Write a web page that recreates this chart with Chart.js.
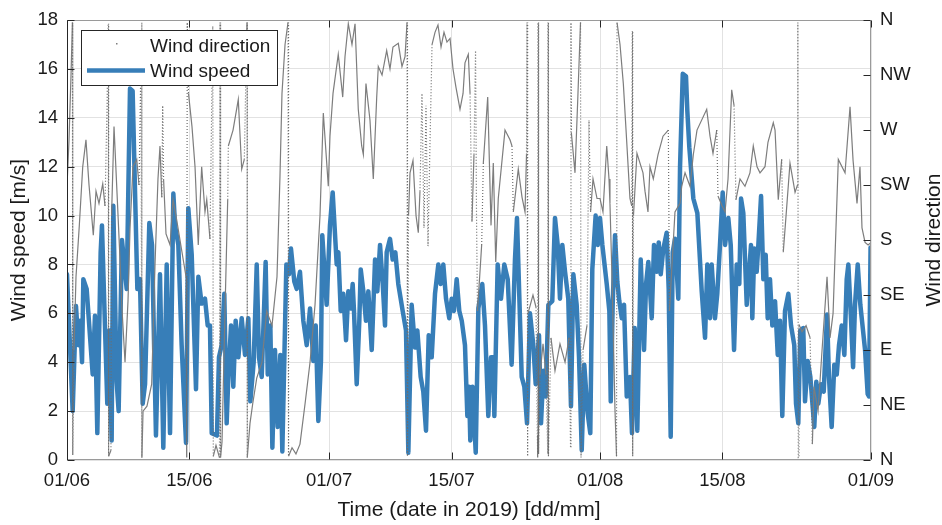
<!DOCTYPE html>
<html><head><meta charset="utf-8">
<script src="https://cdn.jsdelivr.net/npm/chart.js@4/dist/chart.umd.min.js"></script>
<style>html,body{margin:0;padding:0;background:#fff}canvas{display:block}</style>
</head><body>
<canvas id="c" width="942" height="525"></canvas>
<script>
// time axis: days since 01/06/2019 00:00
const dateTickDays = [0, 14, 30, 44, 61, 75, 92];
const dateTickLabels = ['01/06', '15/06', '01/07', '15/07', '01/08', '15/08', '01/09'];
const dirTickLabels = ['N', 'NE', 'E', 'SE', 'S', 'SW', 'W', 'NW', 'N'];

const speedDays = [0.00,0.65,1.03,1.30,1.49,1.72,1.87,2.25,2.94,3.20,3.47,3.85,4.00,4.61,4.84,5.11,5.30,5.68,5.91,6.29,6.83,7.21,7.51,8.05,8.35,8.66,8.93,9.42,9.73,10.18,10.64,11.02,11.41,11.79,12.17,12.36,12.74,13.12,13.62,13.88,14.27,14.76,15.03,15.40,15.79,16.10,16.36,16.56,17.16,17.39,17.70,18.00,18.27,18.46,18.77,19.03,19.30,19.61,19.99,20.37,20.75,20.98,21.36,21.71,21.97,22.28,22.73,22.97,23.27,23.50,23.80,24.11,24.41,24.64,25.10,25.40,25.63,26.01,26.28,26.66,27.04,27.43,27.81,28.19,28.46,28.76,29.06,29.21,29.71,30.09,30.40,30.86,31.05,31.32,31.62,31.93,32.19,32.47,32.69,32.84,33.15,33.45,33.61,33.91,34.21,34.48,34.87,35.25,35.51,35.82,36.13,36.39,36.58,36.96,37.27,37.57,37.91,38.41,38.79,39.06,39.44,39.82,40.09,40.47,40.77,41.08,41.39,41.73,42.11,42.49,42.76,43.06,43.37,43.74,44.02,44.28,44.59,44.89,45.17,45.54,45.81,46.00,46.15,46.40,46.77,47.07,47.52,47.83,47.98,48.21,48.52,48.78,48.90,49.28,49.66,50.04,50.43,50.88,51.26,51.49,52.03,52.33,52.64,52.98,53.36,53.63,54.01,54.24,54.51,54.77,55.08,55.53,55.84,56.15,56.41,56.68,56.99,57.36,57.67,57.94,58.32,58.59,58.90,59.19,59.58,59.88,60.11,60.49,60.73,60.99,61.26,61.76,62.06,62.22,62.44,62.71,62.97,63.20,63.48,63.74,64.05,64.42,64.65,64.96,65.26,65.65,66.03,66.26,66.52,66.91,67.17,67.48,67.71,67.94,68.24,68.62,68.85,69.08,69.31,69.57,69.95,70.15,70.46,70.83,70.98,71.21,71.67,72.13,72.63,73.01,73.27,73.58,73.77,74.15,74.41,74.72,75.03,75.30,75.67,75.95,76.33,76.63,76.93,77.13,77.39,77.78,78.27,78.42,78.65,78.92,79.11,79.42,79.68,79.95,80.18,80.44,80.71,81.02,81.33,81.59,81.85,82.16,82.54,82.85,83.22,83.42,83.68,83.91,84.25,84.45,84.76,85.06,85.51,85.74,85.97,86.28,86.59,86.97,87.19,87.50,87.80,88.08,88.34,88.65,88.95,89.22,89.41,89.72,89.95,90.17,90.48,90.78,91.32,91.62,91.77,91.95];
const speedValues = [7.6,2.0,6.3,4.7,5.7,4.0,7.4,7.0,3.5,5.9,1.1,8.5,9.6,2.3,5.3,0.8,10.4,3.2,2.0,9.0,7.0,15.2,15.1,7.0,7.4,2.3,3.1,9.7,8.8,1.0,7.6,0.5,8.0,1.1,10.9,9.6,8.8,4.7,0.7,10.3,8.4,2.9,7.5,6.4,6.6,5.5,5.5,1.1,1.0,4.2,4.7,6.8,1.5,3.4,5.5,3.0,5.7,4.2,5.8,4.3,5.8,2.4,4.0,8.0,4.2,3.4,8.1,3.5,5.5,0.5,4.5,1.35,4.3,0.35,8.0,7.6,8.65,7.3,7.0,7.7,5.7,4.7,6.2,4.05,5.5,1.6,4.05,9.2,6.35,9.6,10.95,8.0,8.5,6.1,6.8,4.9,6.9,6.2,7.2,6.1,3.1,5.7,7.8,6.9,5.7,6.9,4.5,8.2,6.9,8.8,7.2,5.5,8.5,9.05,8.2,8.5,7.2,6.1,5.3,0.3,6.35,4.6,5.3,3.4,2.8,1.2,5.1,4.2,6.8,8.0,7.2,8.0,6.6,5.8,6.6,6.1,7.4,6.1,5.7,4.7,1.8,3.0,0.8,3.0,0.3,6.2,7.2,5.5,4.05,1.8,4.2,4.2,1.8,8.0,6.6,8.0,7.4,3.9,8.2,9.9,3.4,3.0,1.5,6.0,4.7,3.1,5.1,1.5,3.65,2.6,6.35,6.5,9.9,8.8,6.6,8.8,7.7,6.6,2.2,7.6,6.35,4.2,0.4,3.9,1.9,1.1,7.8,10.0,8.8,9.9,8.8,7.2,6.1,2.4,6.35,9.2,7.3,6.5,5.8,6.35,2.6,3.4,1.1,5.4,1.2,8.2,4.5,7.2,8.1,5.8,8.8,7.7,8.9,7.6,8.65,9.3,7.0,0.95,8.5,9.05,6.6,12.0,15.8,15.7,14.3,12.8,10.7,10.1,6.9,5.0,8.0,5.8,8.0,5.8,6.8,8.8,10.95,8.8,9.9,8.8,4.5,8.0,7.2,10.7,10.1,6.35,8.8,5.8,8.65,7.7,8.8,10.8,7.4,8.4,5.8,7.4,5.5,6.5,4.3,5.7,1.8,6.1,6.8,5.5,4.7,2.3,1.5,5.3,5.4,2.4,4.05,3.4,1.35,3.2,2.3,3.1,2.8,5.95,3.4,1.35,3.9,3.5,4.7,5.5,4.3,7.4,8.0,5.7,3.8,6.35,8.0,6.35,4.5,2.7,2.6,8.7];

// wind direction in degrees (0 = N, 90 = E, 180 = S, 270 = W, 360 = N)
const dirDays = [0.00,0.23,0.46,0.62,0.66,0.80,1.03,1.41,1.80,2.17,2.52,3.01,3.32,3.66,4.09,4.35,4.58,4.71,4.76,5.03,5.10,5.38,5.72,6.06,6.29,6.64,6.98,7.21,7.55,7.98,8.24,8.47,8.55,8.57,8.70,9.15,9.69,10.07,10.41,10.64,10.85,10.95,11.05,11.33,11.79,12.13,12.47,12.93,13.39,13.62,13.70,13.76,13.90,14.30,14.65,15.02,15.41,15.79,15.99,16.36,16.68,16.74,17.05,17.45,17.51,17.57,17.74,18.08,18.39,18.46,19.00,19.60,19.99,20.29,20.54,20.60,20.63,20.94,21.25,21.71,22.31,22.85,23.46,24.03,24.37,24.60,24.95,25.29,25.35,25.75,26.20,26.66,27.24,27.81,28.38,28.95,29.33,29.90,30.09,30.44,31.04,31.55,31.81,32.19,32.61,32.96,33.33,33.72,33.91,34.21,34.67,35.05,35.44,35.62,36.05,36.58,36.96,37.30,37.91,38.33,38.68,38.91,38.96,39.08,39.25,39.59,39.94,40.20,40.39,40.62,40.85,41.08,41.31,41.54,41.77,42.11,42.45,42.80,43.14,43.48,43.83,44.17,44.51,44.97,45.32,45.54,45.92,46.12,46.34,46.57,46.75,46.86,46.97,47.45,47.64,48.14,48.52,48.78,49.06,49.35,50.12,50.69,50.92,51.07,51.64,52.07,52.41,52.58,52.64,52.67,52.75,53.32,53.67,53.82,53.86,53.90,53.96,54.13,54.47,54.81,55.01,55.04,55.09,55.38,55.84,56.41,56.99,57.45,57.62,57.67,57.71,58.13,58.47,58.76,58.82,59.05,59.50,59.73,59.91,60.19,60.65,60.99,61.33,61.76,62.02,62.13,62.36,62.71,62.88,62.94,63.28,63.66,63.97,64.42,64.62,64.69,64.73,64.82,65.22,65.91,66.14,66.48,66.71,67.09,67.63,68.20,68.81,68.94,69.23,69.57,70.14,70.34,70.72,71.29,71.67,72.09,73.20,73.58,73.92,74.35,74.49,74.95,75.30,75.64,76.06,76.33,76.55,77.01,77.58,78.15,78.53,78.96,79.30,79.87,80.21,80.82,81.02,81.39,81.78,81.96,82.28,82.73,83.31,83.59,83.63,83.68,83.76,84.11,84.57,85.03,85.29,85.48,85.94,86.40,86.97,87.31,87.66,88.26,89.03,89.60,89.95,90.40,90.74,90.97,91.32,91.67,92.00];
const dirValues = [224,262,315,358,4,90,150,192,240,262,225,184,220,210,226,208,290,357,3,8,200,273,219,165,124,80,130,189,240,246,225,330,358,2,40,44,62,160,230,257,215,290,230,185,176,213,200,180,160,150,2,358,300,273,240,176,240,203,213,181,355,3,12,2,358,2,15,122,213,257,270,295,238,246,340,358,2,30,46,67,80,122,110,150,232,300,340,358,3,10,5,13,46,80,127,200,284,224,265,300,332,297,330,357,340,357,287,257,250,308,278,230,297,322,315,335,320,338,341,322,330,358,3,200,235,245,200,186,220,300,190,290,175,260,340,350,356,338,350,342,345,320,305,287,300,325,332,300,195,250,335,200,122,176,243,297,192,243,162,214,270,262,257,203,238,215,203,250,358,3,120,135,125,20,2,358,5,70,95,70,5,358,3,100,73,95,80,100,10,358,268,235,300,358,2,90,110,278,203,230,214,214,203,257,230,210,150,40,3,358,340,308,270,214,208,351,3,200,251,235,220,203,240,230,250,265,270,122,160,203,210,224,235,224,250,270,287,265,251,270,216,208,203,230,303,290,213,230,224,235,257,240,235,240,260,276,270,213,246,170,200,243,219,225,358,2,111,105,110,100,13,60,40,90,150,100,120,246,235,289,245,210,240,190,178,176,178];

const speedData = speedDays.map((d, i) => ({x: d, y: speedValues[i]}));
const dirData = dirDays.map((d, i) => ({x: d, y: dirValues[i]}));

const TXT = '#1a1a1a';
const FONT = '"Liberation Sans", Arial, Helvetica, sans-serif';
const BLUE = '#377eb8';
const GREY = '#7d7d7d';

// steep direction changes are drawn dotted, slow changes solid
function steep(c) {
  const dx = c.p1.parsed.x - c.p0.parsed.x;
  const dy = Math.abs(c.p1.parsed.y - c.p0.parsed.y);
  return dx <= 0 || dy / dx > 320;
}

const framePlugin = {
  id: 'frame',
  afterDatasetsDraw(chart) {
    const {ctx, chartArea: {left, right, top, bottom}, scales} = chart;
    const L = Math.round(left) + 0.5, R = Math.round(right) - 0.5;
    const T = Math.round(top) + 0.5, B = Math.round(bottom) - 0.5;
    ctx.save();
    ctx.lineWidth = 1;
    ctx.setLineDash([]);
    ctx.strokeStyle = '#9a9a9a';
    ctx.beginPath();
    ctx.moveTo(L, T); ctx.lineTo(R, T);
    ctx.moveTo(L, B); ctx.lineTo(R, B);
    ctx.moveTo(R, T); ctx.lineTo(R, B);
    ctx.stroke();
    ctx.strokeStyle = '#262626';
    ctx.beginPath();
    ctx.moveTo(L, T); ctx.lineTo(L, B + 0.5);
    ctx.stroke();
    const TL = 7;
    ctx.strokeStyle = '#262626';
    ctx.beginPath();
    for (let v = 0; v <= 18; v += 2) {
      const y = Math.round(scales.y.getPixelForValue(v)) + 0.5;
      ctx.moveTo(L, y); ctx.lineTo(L + TL, y);
    }
    for (let v = 0; v <= 360; v += 45) {
      const y = Math.round(scales.y2.getPixelForValue(v)) + 0.5;
      ctx.moveTo(R, y); ctx.lineTo(R - TL, y);
    }
    dateTickDays.forEach(d => {
      const x = Math.round(scales.x.getPixelForValue(d)) + 0.5;
      ctx.moveTo(x, B); ctx.lineTo(x, B - TL);
      ctx.moveTo(x, T); ctx.lineTo(x, T + TL);
    });
    ctx.stroke();

    // legend
    const lx = 81.5, ly = 30.5, lw = 196, lh = 55;
    ctx.fillStyle = '#ffffff';
    ctx.fillRect(lx, ly, lw, lh);
    ctx.strokeStyle = '#262626';
    ctx.strokeRect(lx, ly, lw, lh);
    ctx.fillStyle = GREY;
    ctx.fillRect(116, 43, 1.5, 1.5);
    ctx.strokeStyle = BLUE;
    ctx.lineWidth = 4.5;
    ctx.beginPath();
    ctx.moveTo(87, 70.5); ctx.lineTo(145, 70.5);
    ctx.stroke();
    ctx.fillStyle = TXT;
    ctx.font = '19px ' + FONT;
    ctx.textAlign = 'left';
    ctx.textBaseline = 'alphabetic';
    ctx.fillText('Wind direction', 150, 52);
    ctx.fillText('Wind speed', 150, 77);

    // right axis title (reads bottom to top)
    ctx.save();
    ctx.translate(940, (top + bottom) / 2);
    ctx.rotate(-Math.PI / 2);
    ctx.font = '21px ' + FONT;
    ctx.textAlign = 'center';
    ctx.textBaseline = 'alphabetic';
    ctx.fillStyle = TXT;
    ctx.fillText('Wind direction', 0, 0);
    ctx.restore();
    ctx.restore();
  }
};

new Chart(document.getElementById('c'), {
  type: 'line',
  data: {
    datasets: [
      {
        label: 'Wind direction',
        data: dirData,
        yAxisID: 'y2',
        borderColor: GREY,
        borderWidth: 1.2,
        borderDash: [],
        segment: {
          borderDash: c => steep(c) ? [1, 2] : [],
          borderColor: c => steep(c) ? '#6e6e6e' : GREY
        },
        pointRadius: 0,
        tension: 0,
        fill: false
      },
      {
        label: 'Wind speed',
        data: speedData,
        yAxisID: 'y',
        borderColor: BLUE,
        borderWidth: 4.5,
        borderJoinStyle: 'round',
        borderCapStyle: 'round',
        pointRadius: 0,
        tension: 0,
        fill: false
      }
    ]
  },
  options: {
    responsive: false,
    animation: false,
    devicePixelRatio: 1,
    events: [],
    layout: {padding: {top: 16, left: 0, right: 0, bottom: 0}},
    plugins: {legend: {display: false}, tooltip: {enabled: false}},
    scales: {
      x: {
        type: 'linear',
        min: 0,
        max: 92,
        afterBuildTicks: s => { s.ticks = dateTickDays.map(v => ({value: v})); },
        afterFit: s => { s.height = 65; },
        ticks: {
          autoSkip: false,
          maxRotation: 0,
          padding: 10,
          color: TXT,
          font: {family: FONT, size: 18.5},
          callback: v => dateTickLabels[dateTickDays.indexOf(v)]
        },
        grid: {color: '#e2e2e2', drawTicks: false},
        border: {display: false},
        title: {
          display: true,
          text: 'Time (date in 2019) [dd/mm]',
          color: TXT,
          font: {family: FONT, size: 21},
          padding: {top: 0, bottom: 2}
        }
      },
      y: {
        position: 'left',
        min: 0,
        max: 18,
        afterFit: s => { s.width = 67; },
        ticks: {stepSize: 2, padding: 9, color: TXT, font: {family: FONT, size: 18.5}},
        grid: {color: '#e2e2e2', drawTicks: false},
        border: {display: false},
        title: {
          display: true,
          text: 'Wind speed [m/s]',
          color: TXT,
          font: {family: FONT, size: 21},
          padding: {top: 7, bottom: 0}
        }
      },
      y2: {
        position: 'right',
        min: 0,
        max: 360,
        afterFit: s => { s.width = 71; },
        afterBuildTicks: s => { s.ticks = dirTickLabels.map((t, i) => ({value: i * 45})); },
        ticks: {
          autoSkip: false,
          padding: 9,
          color: TXT,
          font: {family: FONT, size: 18.5},
          callback: v => dirTickLabels[Math.round(v / 45)]
        },
        grid: {drawOnChartArea: false, drawTicks: false},
        border: {display: false}
      }
    }
  },
  plugins: [framePlugin]
});
</script>
</body></html>
